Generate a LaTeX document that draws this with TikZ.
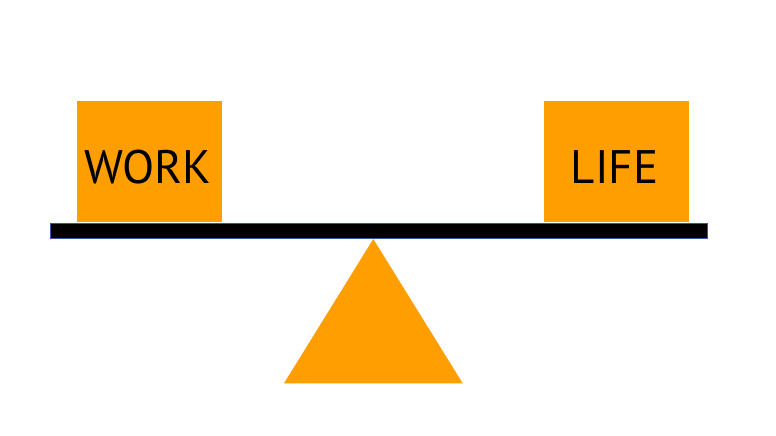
\documentclass[tikz,border=0pt]{standalone}
\usepackage{fontspec}
\setmainfont{PT Sans}
\definecolor{orng}{HTML}{FF9E00}
\definecolor{beamedge}{HTML}{3A55A8}
\begin{document}
\begin{tikzpicture}[x=1pt,y=1pt,
  weight/.style={fill=orng, draw=none, minimum width=145.5pt, minimum height=121pt, inner sep=0pt},
  lbl/.style={anchor=base, font=\fontsize{47}{47}\selectfont, text=black, inner sep=0pt},
  beamstyle/.style={fill=black, draw=beamedge, line width=0.8pt, minimum width=657pt, minimum height=15.5pt, inner sep=0pt}]
\useasboundingbox (0,0) rectangle (776,436);
\fill[white] (0,0) rectangle (776,436);
\node[weight] (work) at (149.6,274.5) {};
\node[weight] (life) at (616.6,274.5) {};
\node[beamstyle] (beam) at (379.2,205) {};
\node[lbl] (worktxt) at (148,252) {WORK};
\node[lbl] (lifetxt) at (614.7,252) {LIFE};
\coordinate (apex) at (373.3,197);
\coordinate (bl) at (284,52.7);
\coordinate (br) at (462.7,52.7);
\fill[orng] (apex) -- (bl) -- (br) -- cycle;
\end{tikzpicture}
\end{document}
